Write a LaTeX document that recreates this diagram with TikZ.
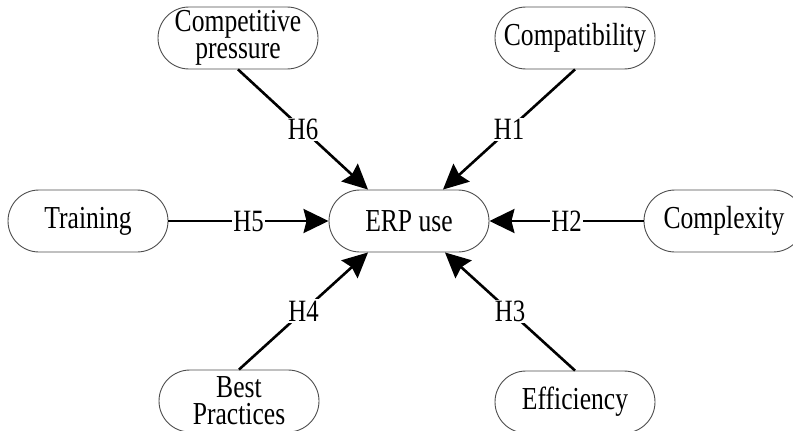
\documentclass[tikz,border=0pt]{standalone}
\usepackage{fontspec}
\setmainfont[FakeStretch=0.8]{Liberation Serif}
\usetikzlibrary{shapes.misc,arrows.meta}
\tikzset{
  factor/.style={rounded rectangle, draw=black!70, line width=0.9pt,
    minimum width=160pt, minimum height=62pt, inner sep=0pt,
    align=center, font=\fontsize{32}{27}\selectfont},
  hyp/.style={line width=2.6pt, -{Stealth[length=25pt,width=24pt,inset=3pt]}},
  hlabel/.style={fill=white, inner sep=1.5pt, font=\fontsize{31}{31}\selectfont}
}
\begin{document}
\begin{tikzpicture}[x=1pt,y=-1pt]
\useasboundingbox (0,0) rectangle (793,431);
\clip (0,0) rectangle (793,431);

% constructs
\node[factor] (erp)  at (409,221) {ERP use};
\node[factor] (comp) at (238,38)  {Competitive\\pressure};
\node[factor] (cmpt) at (575,38)  {Compatibility};
\node[factor] (trn)  at (88,221)  {Training};
\node[factor] (cplx) at (724,221) {Complexity};
\node[factor] (best) at (239,401) {Best\\Practices};
\node[factor] (eff)  at (575,402) {Efficiency};

% arrival points on the ERP use outline
\coordinate (t6) at ([xshift=-41pt]erp.north);
\coordinate (t1) at ([xshift=34pt]erp.north);
\coordinate (t4) at ([xshift=-41pt]erp.south);
\coordinate (t3) at ([xshift=36pt]erp.south);

% hypotheses
\draw[hyp] (comp.south) -- node[hlabel] {H6} (t6);
\draw[hyp] (cmpt.south) -- node[hlabel] {H1} (t1);
\draw[hyp] (trn.east)   -- node[hlabel] {H5} (erp.west);
\draw[hyp] (cplx.west)  -- node[hlabel] {H2} (erp.east);
\draw[hyp] (best.north) -- node[hlabel] {H4} (t4);
\draw[hyp] (eff.north)  -- node[hlabel] {H3} (t3);
\end{tikzpicture}
\end{document}
